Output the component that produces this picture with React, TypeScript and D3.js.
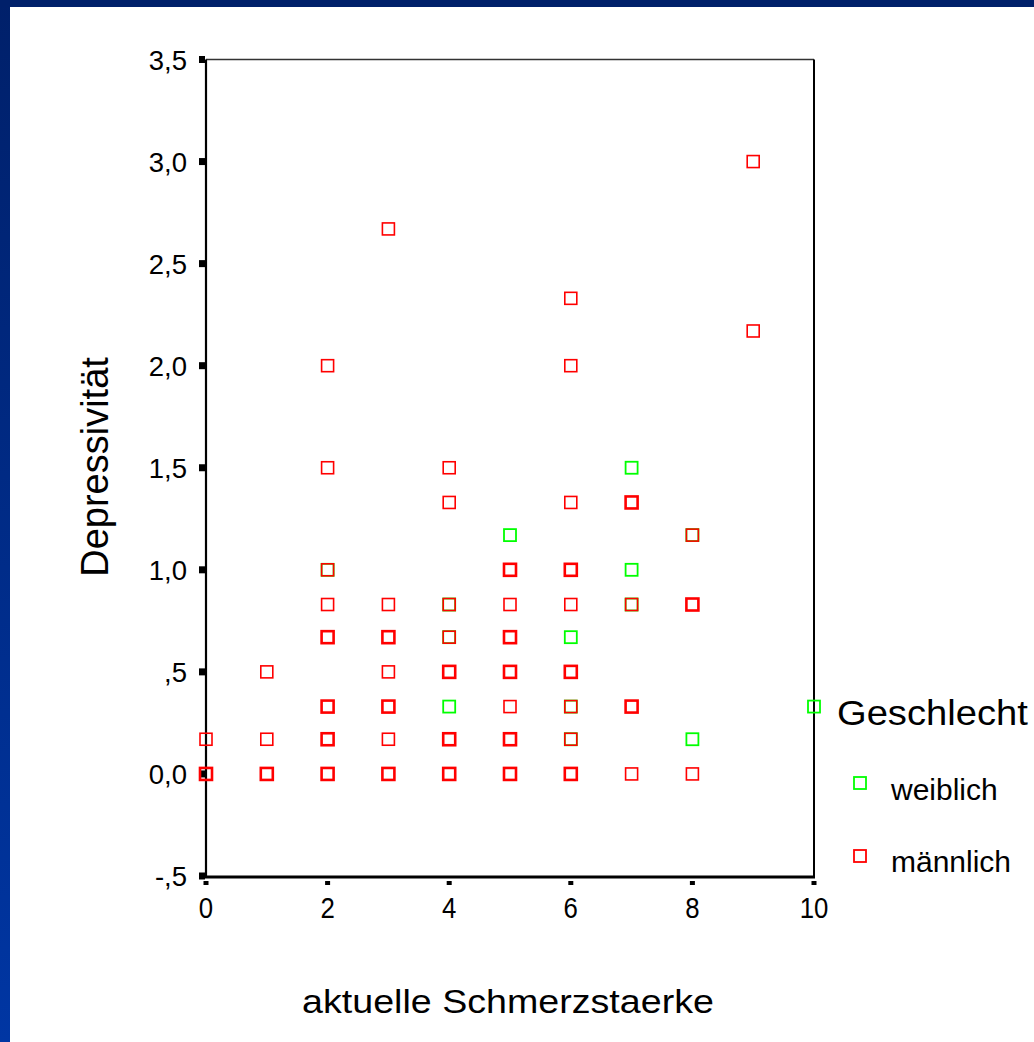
import * as d3 from 'd3';
import React from 'react';

// scatter: aktuelle Schmerzstaerke vs Depressivität, by Geschlecht
// [x, y] for weiblich, [x, y, n] for männlich (n = overlapping cases, drawn bolder)
const weiblich: [number, number][] = [
  [2, 1.0], [4, 0.83], [4, 0.67], [4, 0.33], [5, 1.17], [6, 0.67], [6, 0.33], [6, 0.17],
  [7, 1.5], [7, 1.0], [7, 0.83], [8, 1.17], [8, 0.17], [10, 0.33],
];

const maennlich: [number, number, number][] = [
  [0, 0, 2], [0, 0.17, 1],
  [1, 0.5, 1], [1, 0.17, 1], [1, 0, 2],
  [2, 2.0, 1], [2, 1.5, 1], [2, 1.0, 1], [2, 0.83, 1], [2, 0.67, 2], [2, 0.33, 2], [2, 0.17, 2], [2, 0, 2],
  [3, 2.67, 1], [3, 0.83, 1], [3, 0.67, 2], [3, 0.5, 1], [3, 0.33, 2], [3, 0.17, 1], [3, 0, 2],
  [4, 1.5, 1], [4, 1.33, 1], [4, 0.83, 1], [4, 0.67, 1], [4, 0.5, 2], [4, 0.17, 2], [4, 0, 2],
  [5, 1.0, 2], [5, 0.83, 1], [5, 0.67, 2], [5, 0.5, 2], [5, 0.33, 1], [5, 0.17, 2], [5, 0, 2],
  [6, 2.33, 1], [6, 2.0, 1], [6, 1.33, 1], [6, 1.0, 2], [6, 0.83, 1], [6, 0.5, 2], [6, 0.33, 1], [6, 0.17, 1], [6, 0, 2],
  [7, 1.33, 2], [7, 0.83, 1], [7, 0.33, 2], [7, 0, 1],
  [8, 1.17, 1], [8, 0.83, 2], [8, 0, 1],
  [9, 3.0, 1], [9, 2.17, 1],
];

const xTicks = [0, 2, 4, 6, 8, 10];
const yTicks = [-0.5, 0, 0.5, 1, 1.5, 2, 2.5, 3, 3.5];
const legendLabels = ['weiblich', 'männlich'];
const colors = ['#00ff00', '#ff0000'];

const FONT = 'Liberation Sans, Arial, sans-serif';

// SPSS style: ",5"  "0,0"  "-,5"
const fmt = (v: number) => {
  if (v === 0) return '0,0';
  const s = Math.abs(v).toFixed(1).replace(/^0\./, '.').replace('.', ',');
  return (v < 0 ? '-' : '') + s;
};

export default function App() {
  const W = 1034, H = 1042;
  const x = d3.scaleLinear().domain([0, 10]).range([206, 814]);
  const y = d3.scaleLinear().domain([-0.5, 3.5]).range([876, 59.5]);
  const S = 12;

  return (
    <div style={{ position: 'absolute', left: 0, top: 0, width: W, height: H, background: '#fff' }}>
      <svg width={W} height={H} style={{ display: 'block' }}>
        <defs>
          <linearGradient id="band" x1="0" y1="0" x2="0" y2="1">
            <stop offset="0" stopColor="#00206a" />
            <stop offset="1" stopColor="#0036a3" />
          </linearGradient>
        </defs>
        <rect x={0} y={0} width={W} height={H} fill="#fff" />
        <rect x={0} y={0} width={10} height={H} fill="url(#band)" />
        <rect x={0} y={0} width={W} height={7} fill="#00206a" />

        {/* frame */}
        <line x1={x(0)} x2={x(10)} y1={y(3.5)} y2={y(3.5)} stroke="#333" strokeWidth={1.5} />
        <line x1={x(10)} x2={x(10)} y1={y(3.5)} y2={y(-0.5) + 1} stroke="#000" strokeWidth={2} />
        <line x1={x(0)} x2={x(0)} y1={y(3.5)} y2={y(-0.5) + 2} stroke="#000" strokeWidth={2.2} />
        <line x1={x(0) - 1} x2={x(10) + 1} y1={y(-0.5) + 1} y2={y(-0.5) + 1} stroke="#000" strokeWidth={3} />

        {/* y axis */}
        {yTicks.map(t => (
          <g key={'y' + t}>
            <rect x={x(0) - 7} y={y(t) - 3.5} width={6} height={7} fill="#000" />
            <text x={187} y={y(t) + 10} textAnchor="end" fontFamily={FONT} fontSize={27.5}>{fmt(t)}</text>
          </g>
        ))}

        {/* x axis */}
        {xTicks.map(t => (
          <g key={'x' + t}>
            <rect x={x(t) - 2.5} y={881} width={5} height={4} fill="#000" />
            <text transform={`translate(${x(t)},918) scale(0.86,1)`} textAnchor="middle"
              fontFamily={FONT} fontSize={30}>{t}</text>
          </g>
        ))}

        {/* points */}
        {weiblich.map(([a, b], i) => (
          <rect key={'w' + i} x={x(a) - S / 2} y={y(b) - S / 2} width={S} height={S}
            fill="none" stroke={colors[0]} strokeWidth={1.8} />
        ))}
        {maennlich.map(([a, b, n], i) => (
          <rect key={'m' + i} x={x(a) - S / 2} y={y(b) - S / 2} width={S} height={S}
            fill="none" stroke={colors[1]} strokeWidth={n > 1 ? 2.6 : 1.6} />
        ))}

        {/* axis titles */}
        <text transform="translate(108,467) rotate(-90)" textAnchor="middle" fontFamily={FONT}
          fontSize={38}>Depressivität</text>
        <text transform="translate(508,1013) scale(1.14,1)" textAnchor="middle" fontFamily={FONT}
          fontSize={33}>aktuelle Schmerzstaerke</text>

        {/* legend */}
        <text transform="translate(837,725) scale(1.09,1)" fontFamily={FONT} fontSize={35}>Geschlecht</text>
        {legendLabels.map((l, i) => (
          <g key={l}>
            <rect x={854} y={[777, 850][i]} width={12} height={12} fill="none" stroke={colors[i]} strokeWidth={1.8} />
            <text x={891} y={[800, 872][i]} fontFamily={FONT} fontSize={30}>{l}</text>
          </g>
        ))}
      </svg>
    </div>
  );
}
